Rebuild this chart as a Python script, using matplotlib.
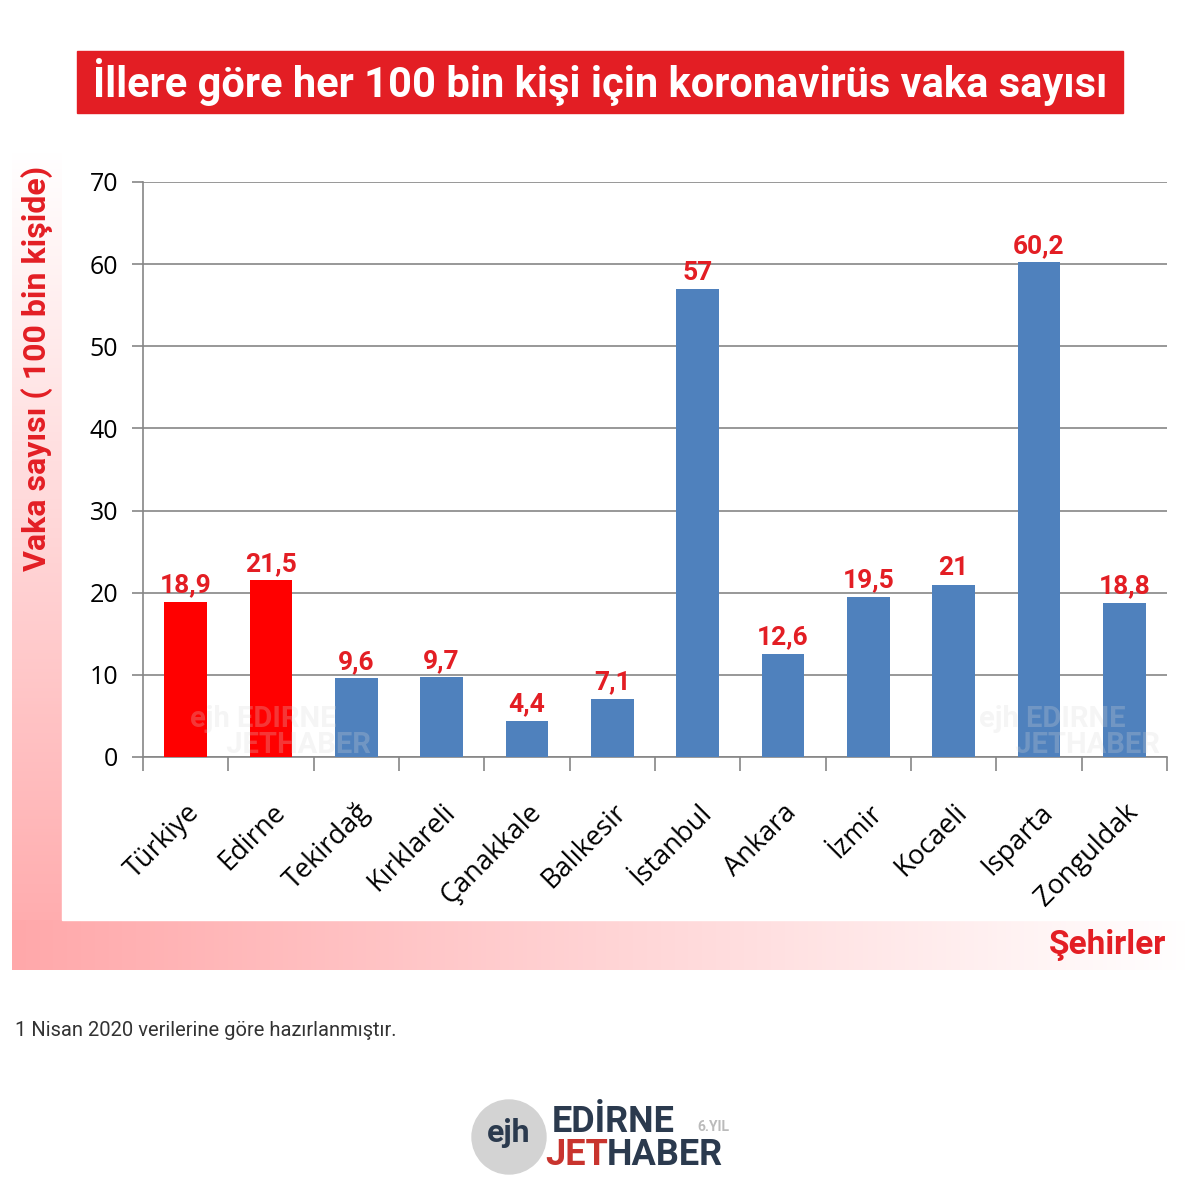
import numpy as np
import matplotlib.pyplot as plt
from matplotlib.patches import Rectangle, Circle
from matplotlib.colors import LinearSegmentedColormap

# data
cities = ["Türkiye", "Edirne", "Tekirdağ", "Kırklareli", "Çanakkale", "Balıkesir",
          "İstanbul", "Ankara", "İzmir", "Kocaeli", "Isparta", "Zonguldak"]
values = [18.9, 21.5, 9.6, 9.7, 4.4, 7.1, 57, 12.6, 19.5, 21, 60.2, 18.8]
labels = ["18,9", "21,5", "9,6", "9,7", "4,4", "7,1", "57", "12,6", "19,5", "21", "60,2", "18,8"]
highlight = ["Türkiye", "Edirne"]
yticks = [0, 10, 20, 30, 40, 50, 60, 70]

RED = "#E31E24"
BLUE = "#4F81BD"
PINK = "#FFA8AA"

fig = plt.figure(figsize=(12, 12), dpi=100)

# background layer in pixel coordinates
bg = fig.add_axes([0, 0, 1, 1], zorder=-5)
bg.set_xlim(0, 1200)
bg.set_ylim(1200, 0)
bg.axis("off")
cmap = LinearSegmentedColormap.from_list("pk", ["white", PINK])
vgrad = np.linspace(0, 1, 256).reshape(-1, 1)
bg.imshow(vgrad, cmap=cmap, aspect="auto", extent=(12, 62, 970, 150), vmin=0, vmax=1)
hgrad = np.linspace(1, 0, 256).reshape(1, -1)
bg.imshow(hgrad, cmap=cmap, aspect="auto", extent=(12, 1190, 970, 920), vmin=0, vmax=1)
bg.add_patch(Rectangle((62, 150), 1130, 770, color="white", zorder=3))

# title box
bg.add_patch(Rectangle((77, 51), 1046, 62, color=RED, zorder=4))
bg.text(600, 82, "İllere göre her 100 bin kişi için koronavirüs vaka sayısı",
        ha="center", va="center", color="white", fontsize=30, fontweight="bold",
        family="Roboto", zorder=5)

bg.text(37, 368, "Vaka sayısı ( 100 bin kişide)", rotation=90, ha="center", va="center",
        color=RED, fontsize=23, fontweight="bold", family="Roboto", zorder=5)
bg.text(1166, 945, "Şehirler", ha="right", va="center", color=RED, fontsize=24,
        fontweight="bold", family="Roboto", zorder=5)
bg.text(15, 1030, "1 Nisan 2020 verilerine göre hazırlanmıştır.", ha="left", va="center",
        color="#333333", fontsize=14.5, family="Roboto", zorder=5)

# logo
bg.add_patch(Circle((509, 1137), 37, color="#D3D3D3", zorder=4))
bg.text(509, 1133, "ejh", ha="center", va="center", color="#2B3A4E", fontsize=23,
        fontweight="bold", family="Roboto", zorder=5)
bg.text(552, 1122, "EDİRNE", ha="left", va="center", color="#2B3A4E", fontsize=26,
        fontweight="bold", family="Roboto", zorder=5)
bg.text(545, 1155, "JET", ha="left", va="center", color="#C8342E", fontsize=26,
        fontweight="bold", family="Roboto", zorder=5)
bg.text(607, 1155, "HABER", ha="left", va="center", color="#2B3A4E", fontsize=26,
        fontweight="bold", family="Roboto", zorder=5)
bg.text(697, 1127, "6.YIL", ha="left", va="center", color="#BBBBBB", fontsize=10,
        fontweight="bold", family="Roboto", zorder=5)

# chart
ax = fig.add_axes([143 / 1200, 1 - 757 / 1200, (1167 - 143) / 1200, (757 - 182) / 1200])
ax.patch.set_alpha(0)
x = np.arange(len(cities))
colors = ["#FF0000" if c in highlight else BLUE for c in cities]
bars = ax.bar(x, values, width=0.5, color=colors, zorder=3)
ax.bar_label(bars, labels=labels, padding=3, color=RED, fontsize=19,
             fontweight="bold", family="Roboto")

# faint watermarks
for wx in (0.05, 9.3):
    ax.text(wx, 3, "ejh EDIRNE\n     JETHABER", color="#D8D8D8", alpha=0.25, fontsize=21,
            fontweight="bold", family="Roboto", va="center", ha="left", zorder=4,
            linespacing=0.9)

ax.set_xlim(-0.5, len(cities) - 0.5)
ax.set_ylim(0, 70)
ax.set_yticks(yticks)
ax.yaxis.grid(True, color="#868686", lw=1.2, zorder=0)
ax.set_xticks(np.arange(len(cities) + 1) - 0.5, minor=False)
ax.set_xticklabels([])
ax.set_xticks(x, minor=True)
ax.set_xticklabels(cities, minor=True, rotation=45, ha="right", va="top",
                   rotation_mode="anchor", fontsize=19.5, family="Open Sans")
ax.tick_params(axis="x", which="minor", length=0, pad=30)
ax.tick_params(axis="x", which="major", length=10, width=1.2, color="#868686")
ax.tick_params(axis="y", length=8, width=1.2, color="#868686", labelsize=18, pad=10)
for lab in ax.get_yticklabels():
    lab.set_family("Open Sans")
for s in ["top", "right"]:
    ax.spines[s].set_visible(False)
for s in ["left", "bottom"]:
    ax.spines[s].set_color("#868686")
    ax.spines[s].set_linewidth(1.2)

fig.savefig("out.png", dpi=100)
